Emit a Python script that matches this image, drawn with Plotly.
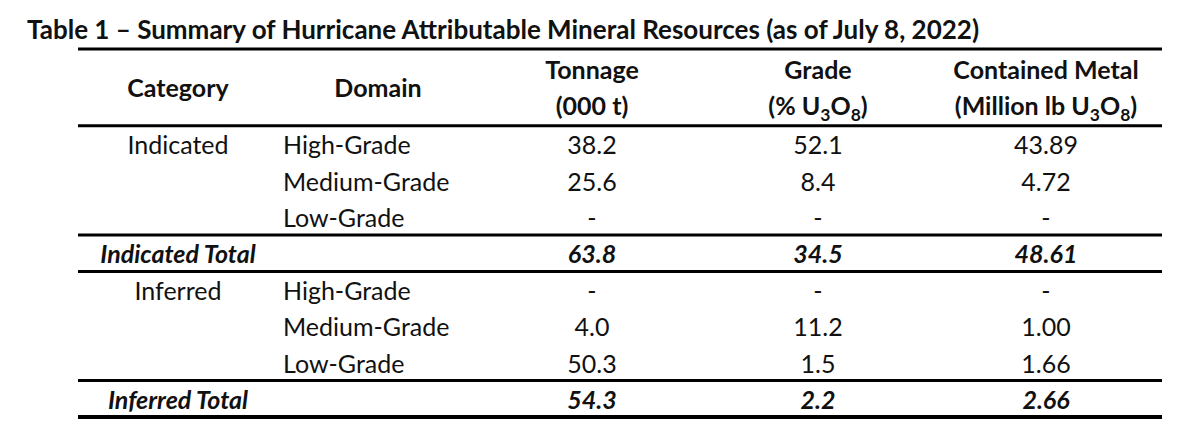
import plotly.graph_objs as go

# table content
title = "Table 1 – Summary of Hurricane Attributable Mineral Resources (as of July 8, 2022)"
header_top = ["Tonnage", "Grade", "Contained Metal"]
header_bottom = ["(000 t)", "(% U<sub>3</sub>O<sub>8</sub>)", "(Million lb U<sub>3</sub>O<sub>8</sub>)"]
header_single = ["Category", "Domain"]

categories = ["Indicated", "", "", "Indicated Total", "Inferred", "", "", "Inferred Total"]
domains = ["High-Grade", "Medium-Grade", "Low-Grade", "", "High-Grade", "Medium-Grade", "Low-Grade", ""]
tonnage = [38.2, 25.6, None, 63.8, None, 4.0, 50.3, 54.3]
grade = [52.1, 8.4, None, 34.5, None, 11.2, 1.5, 2.2]
metal = [43.89, 4.72, None, 48.61, None, 1.00, 1.66, 2.66]
is_total = [False, False, False, True, False, False, False, True]

FONT = "Lato"
SIZE = 25
INK = "#111111"

# layout in page pixels; the html body adds an 8px margin, so axes are shifted by it
W, H = 1200, 437
PAD = 8
col_x = [178, 378, 592, 818, 1046]
domain_left = 283
row0, row_h = 145, 36.4
text_dy = 3  # glyphs sit a little high of the row centre
line_x0, line_x1 = 78, 1162


def row_y(i):
    return row0 + row_h * i


def fmt(v, nd):
    return "-" if v is None else f"{v:.{nd}f}"


def style(txt, total):
    return f"<b><i>{txt}</i></b>" if total else txt


def text_trace(x, y, texts, pos="middle center", bold=False):
    keep = [(xx, yy + text_dy, t) for xx, yy, t in zip(x, y, texts) if t]
    return go.Scatter(
        x=[k[0] for k in keep], y=[k[1] for k in keep],
        text=[f"<b>{k[2]}</b>" if bold else k[2] for k in keep],
        mode="text", textposition=pos,
        textfont=dict(family=FONT, size=SIZE, color=INK),
        hoverinfo="skip", showlegend=False,
    )


n = len(categories)
rows_y = [row_y(i) for i in range(n)]

traces = [
    text_trace([col_x[0]] * n, rows_y, [style(c, t) if c else "" for c, t in zip(categories, is_total)]),
    text_trace([domain_left] * n, rows_y, domains, pos="middle right"),
    text_trace([col_x[2]] * n, rows_y, [style(fmt(v, 1), t) for v, t in zip(tonnage, is_total)]),
    text_trace([col_x[3]] * n, rows_y, [style(fmt(v, 1), t) for v, t in zip(grade, is_total)]),
    text_trace([col_x[4]] * n, rows_y, [style(fmt(v, 2), t) for v, t in zip(metal, is_total)]),
    # header
    text_trace(col_x[:2], [88, 88], header_single, bold=True),
    text_trace(col_x[2:], [70] * 3, header_top, bold=True),
    text_trace(col_x[2:], [106] * 3, header_bottom, bold=True),
]

fig = go.Figure(traces)

# horizontal rules: top, under header, around totals, bottom
rules = [(49, 3), (row_y(0) - row_h / 2 - 1, 3)]
for i, t in enumerate(is_total):
    if t:
        rules.append((row_y(i) - row_h / 2 - 1, 3))
        rules.append((row_y(i) + row_h / 2 - 1, 4 if i == n - 1 else 3))
for y, w in rules:
    fig.add_shape(type="line", xref="x", yref="y", x0=line_x0, x1=line_x1, y0=y, y1=y,
                  line=dict(color="#000000", width=w))

fig.update_layout(
    width=W, height=H,
    margin=dict(l=0, r=0, t=0, b=0),
    paper_bgcolor="white", plot_bgcolor="white",
    xaxis=dict(range=[PAD, W + PAD], visible=False, fixedrange=True),
    yaxis=dict(range=[H + PAD, PAD], visible=False, fixedrange=True),
    annotations=[dict(
        text=f"<b>{title}</b>", x=25, y=29, xref="x", yref="y",
        xanchor="left", yanchor="middle", showarrow=False,
        font=dict(family=FONT, size=26, color=INK),
    )],
)

fig.write_html("out.html")
